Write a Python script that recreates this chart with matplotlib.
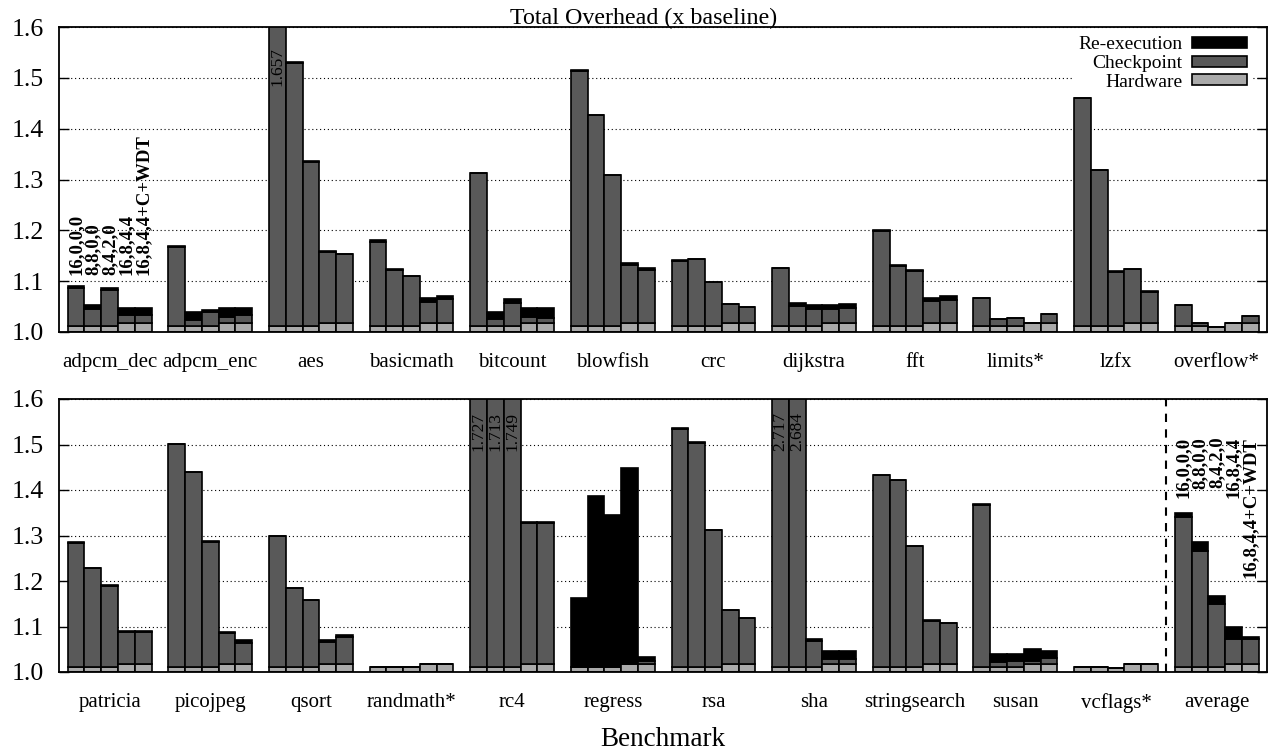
import matplotlib
matplotlib.use("Agg")
import matplotlib.pyplot as plt
from matplotlib.patches import Patch
import numpy as np

plt.rcParams['font.family'] = ['Liberation Serif', 'DejaVu Serif']

CONFIGS = ["16,0,0,0", "8,8,0,0", "8,4,2,0", "16,8,4,4", "16,8,4,4+C+WDT"]
SERIES = ["Re-execution", "Checkpoint", "Hardware"]
COLORS = {"Re-execution": "#000000", "Checkpoint": "#595959", "Hardware": "#aaaaaa"}

# hardware overhead (fraction above baseline) per configuration
HARDWARE = [0.011, 0.011, 0.011, 0.018, 0.018]

TOP_BENCH = ["adpcm_dec", "adpcm_enc", "aes", "basicmath", "bitcount", "blowfish",
             "crc", "dijkstra", "fft", "limits*", "lzfx", "overflow*"]
# level reached by hardware + checkpoint
TOP_CKPT = [
    [1.087, 1.0446, 1.083, 1.033, 1.033],
    [1.167, 1.023, 1.039, 1.0295, 1.033],
    [1.657, 1.530, 1.335, 1.157, 1.153],
    [1.178, 1.121, 1.110, 1.059, 1.065],
    [1.312, 1.025, 1.058, 1.0295, 1.028],
    [1.514, 1.426, 1.308, 1.131, 1.121],
    [1.140, 1.143, 1.098, 1.055, 1.049],
    [1.125, 1.052, 1.046, 1.0446, 1.048],
    [1.199, 1.129, 1.120, 1.061, 1.0636],
    [1.066, 1.025, 1.027, 1.018, 1.035],
    [1.460, 1.318, 1.119, 1.123, 1.079],
    [1.053, 1.017, 1.010, 1.018, 1.031],
]
# total overhead (x baseline)
TOP_TOTAL = [
    [1.090, 1.0525, 1.087, 1.048, 1.048],
    [1.170, 1.039, 1.0426, 1.048, 1.048],
    [1.657, 1.531, 1.336, 1.159, 1.154],
    [1.180, 1.123, 1.111, 1.066, 1.0715],
    [1.313, 1.039, 1.064, 1.048, 1.048],
    [1.515, 1.4275, 1.309, 1.136, 1.125],
    [1.141, 1.144, 1.099, 1.056, 1.050],
    [1.1266, 1.058, 1.054, 1.054, 1.056],
    [1.200, 1.132, 1.121, 1.0675, 1.070],
    [1.067, 1.026, 1.028, 1.018, 1.036],
    [1.461, 1.319, 1.120, 1.1246, 1.080],
    [1.054, 1.018, 1.010, 1.018, 1.032],
]

BOT_BENCH = ["patricia", "picojpeg", "qsort", "randmath*", "rc4", "regress",
             "rsa", "sha", "stringsearch", "susan", "vcflags*", "average"]
BOT_CKPT = [
    [1.284, 1.228, 1.190, 1.088, 1.088],
    [1.501, 1.439, 1.286, 1.086, 1.0646],
    [1.298, 1.184, 1.158, 1.065, 1.077],
    [1.011, 1.011, 1.011, 1.018, 1.018],
    [1.727, 1.713, 1.749, 1.328, 1.328],
    [1.011, 1.011, 1.011, 1.018, 1.0235],
    [1.535, 1.504, 1.311, 1.136, 1.118],
    [2.717, 2.684, 1.068, 1.029, 1.029],
    [1.432, 1.421, 1.277, 1.112, 1.107],
    [1.368, 1.022, 1.0235, 1.0235, 1.0315],
    [1.011, 1.011, 1.009, 1.018, 1.018],
    [1.341, 1.2656, 1.149, 1.073, 1.072],
]
BOT_TOTAL = [
    [1.2854, 1.2296, 1.1908, 1.0895, 1.0895],
    [1.502, 1.440, 1.2876, 1.088, 1.0697],
    [1.2993, 1.1856, 1.159, 1.0697, 1.0807],
    [1.011, 1.011, 1.011, 1.018, 1.018],
    [1.727, 1.713, 1.749, 1.3287, 1.3287],
    [1.1636, 1.387, 1.346, 1.4475, 1.033],
    [1.536, 1.5055, 1.3125, 1.137, 1.1196],
    [2.717, 2.684, 1.073, 1.046, 1.046],
    [1.433, 1.4226, 1.278, 1.1137, 1.1086],
    [1.369, 1.0396, 1.0396, 1.0514, 1.046],
    [1.011, 1.011, 1.009, 1.018, 1.018],
    [1.349, 1.2847, 1.167, 1.098, 1.077],
]

YMIN, YMAX = 1.0, 1.6
YTICKS = [1.0, 1.1, 1.2, 1.3, 1.4, 1.5, 1.6]

W, H = 1268, 752
fig = plt.figure(figsize=(W / 100, H / 100), dpi=100)

def px_axes(l, t, r, b):
    return fig.add_axes([l / W, 1 - b / H, (r - l) / W, (b - t) / H])

ax_top = px_axes(59.3, 27, 1267, 332)
ax_bot = px_axes(59.3, 399, 1267, 672)

EDGE_LW = 1.2

def draw_panel(ax, benches, ckpt, total, clip_label_y):
    ckpt = np.array(ckpt)
    total = np.array(total)
    n = len(benches)
    for j in range(len(CONFIGS)):
        x = np.arange(n) * 6 + j + 1
        hw = np.minimum(HARDWARE[j], total[:, j] - 1.0)
        ck = ckpt[:, j] - 1.0 - hw
        re = total[:, j] - ckpt[:, j]
        ax.bar(x, hw, bottom=1.0, width=1.0, color=COLORS["Hardware"],
               edgecolor="black", linewidth=EDGE_LW, zorder=2)
        ax.bar(x, ck, bottom=1.0 + hw, width=1.0, color=COLORS["Checkpoint"],
               edgecolor="black", linewidth=EDGE_LW, zorder=2)
        ax.bar(x, re, bottom=ckpt[:, j], width=1.0, color=COLORS["Re-execution"],
               edgecolor="black", linewidth=EDGE_LW, zorder=2)
        for xi, tv in zip(x, total[:, j]):
            if tv > YMAX:
                ax.text(xi, clip_label_y, f"{tv:.3f}",
                        rotation=90, ha="center", va="top", fontsize=12.5,
                        color="black", zorder=3)
    ax.set_xlim(0, n * 6)
    ax.set_ylim(YMIN, YMAX)
    ax.set_yticks(YTICKS)
    ax.set_yticklabels([f"{v:.1f}" for v in YTICKS], fontsize=18.5)
    ax.set_xticks(np.arange(n) * 6 + 3)
    ax.set_xticklabels(benches, fontsize=15)
    ax.tick_params(axis="x", length=0, pad=15)
    ax.tick_params(axis="y", direction="in", length=7, width=1.0, right=True, pad=11)
    ax.yaxis.grid(True, linestyle=(0, (1, 2.5)), color="black", linewidth=0.8)
    ax.set_axisbelow(True)
    for s in ax.spines.values():
        s.set_linewidth(1.3)
    return n

draw_panel(ax_top, TOP_BENCH, TOP_CKPT, TOP_TOTAL, 1.561)
n_bot = draw_panel(ax_bot, BOT_BENCH, BOT_CKPT, BOT_TOTAL, 1.571)

# configuration labels above first group (top panel)
for j, lab in enumerate(CONFIGS):
    ax_top.text(j + 1, 1.113, lab, rotation=90, ha="center", va="bottom",
                fontsize=13.5, fontweight="bold")
# configuration labels above average group (bottom panel)
for j, lab in enumerate(CONFIGS):
    ax_bot.text((n_bot - 1) * 6 + j + 1, 1.517, lab, rotation=90, ha="center",
                va="top", fontsize=13.5, fontweight="bold")

# dashed separator before average
ax_bot.axvline((n_bot - 1) * 6, color="black", linestyle=(0, (4, 3.5)),
               linewidth=1.5, zorder=3)

handles = [Patch(facecolor=COLORS[s], edgecolor="black", linewidth=EDGE_LW) for s in SERIES]
leg = ax_top.legend(handles, SERIES, loc="upper right",
                    bbox_to_anchor=(0.9876, 0.985), markerfirst=False,
                    frameon=True, facecolor="white", edgecolor="none",
                    framealpha=1, fancybox=False, fontsize=14,
                    handlelength=2.85, handleheight=0.5, handletextpad=0.5,
                    labelspacing=0.08, borderpad=0.25, borderaxespad=0)
leg.set_zorder(1.5)

fig.text(644 / W, 1 - 24 / H, "Total Overhead (x baseline)", ha="center",
         va="baseline", fontsize=17.3)
fig.text(663 / W, 1 - 739 / H, "Benchmark", ha="center", va="center", fontsize=19.5)

fig.savefig("out.png", dpi=100)
